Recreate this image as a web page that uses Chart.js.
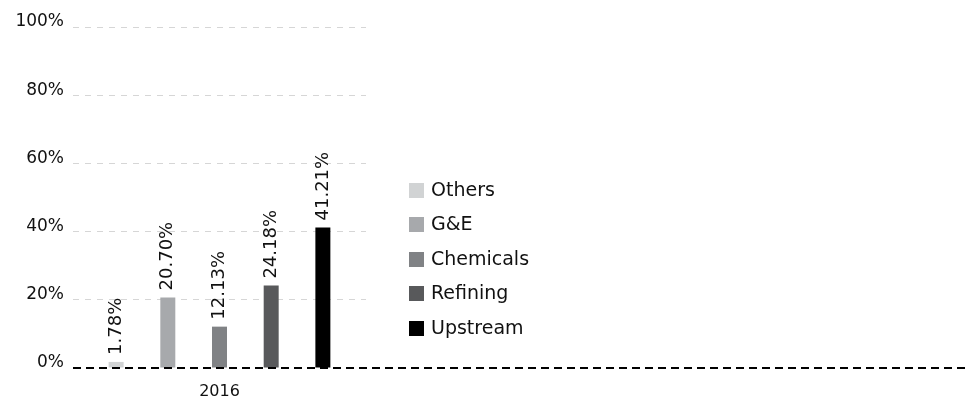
<!DOCTYPE html>
<html>
<head>
<meta charset="utf-8">
<script src="https://cdn.jsdelivr.net/npm/chart.js@4"></script>
<style>
  html, body { margin: 0; padding: 0; background: #ffffff; }
  #c { display: block; }
</style>
</head>
<body>
<canvas id="c" width="969" height="405"></canvas>
<script>
// Share of capital expenditure by segment
const years = ['2016'];
const segments = ['Others', 'G&E', 'Chemicals', 'Refining', 'Upstream'];
const shares = [1.78, 20.70, 12.13, 24.18, 41.21];
const yTicks = [0, 20, 40, 60, 80, 100];
const segmentColors = ['#d1d3d4', '#a7a9ac', '#808285', '#58595b', '#000000'];

const FONT = '"DejaVu Sans", sans-serif';
const INK = '#111111';

// Rotated percentage labels above every bar
const valueLabels = {
  id: 'valueLabels',
  afterDatasetsDraw(chart) {
    const ctx = chart.ctx;
    ctx.save();
    ctx.font = '18px ' + FONT;
    ctx.fillStyle = INK;
    ctx.textAlign = 'left';
    ctx.textBaseline = 'middle';
    chart.data.datasets.forEach((ds, i) => {
      const meta = chart.getDatasetMeta(i);
      meta.data.forEach((bar, j) => {
        const v = ds.data[j];
        ctx.save();
        ctx.translate(bar.x, bar.y - 7);
        ctx.rotate(-Math.PI / 2);
        ctx.fillText(v.toFixed(2) + '%', 0, 0);
        ctx.restore();
      });
    });
    ctx.restore();
  }
};

// Dashed zero line running across the full width
const zeroLine = {
  id: 'zeroLine',
  afterDatasetsDraw(chart) {
    const ctx = chart.ctx;
    const y = Math.round(chart.scales.y.getPixelForValue(0));
    ctx.save();
    ctx.strokeStyle = '#000000';
    ctx.lineWidth = 2;
    ctx.setLineDash([8, 5]);
    ctx.beginPath();
    ctx.moveTo(chart.chartArea.left, y);
    ctx.lineTo(chart.width - 3, y);
    ctx.stroke();
    ctx.restore();
  }
};

// Segment key placed beside the plot
const sideLegend = {
  id: 'sideLegend',
  afterDraw(chart) {
    const ctx = chart.ctx;
    const x0 = 409, y0 = 190, step = 34.5, box = 15;
    ctx.save();
    ctx.font = '19px ' + FONT;
    ctx.textAlign = 'left';
    ctx.textBaseline = 'middle';
    chart.data.datasets.forEach((ds, i) => {
      const yc = y0 + i * step;
      ctx.fillStyle = ds.backgroundColor;
      ctx.fillRect(x0, Math.round(yc - box / 2), box, box);
      ctx.fillStyle = INK;
      ctx.fillText(ds.label, x0 + 22, yc + 1);
    });
    ctx.restore();
  }
};

const datasets = segments.map((name, i) => ({
  label: name,
  data: [shares[i]],
  backgroundColor: segmentColors[i],
  borderWidth: 0,
  categoryPercentage: 0.882,
  barPercentage: 0.29
}));

new Chart(document.getElementById('c'), {
  type: 'bar',
  data: { labels: years, datasets },
  options: {
    responsive: false,
    devicePixelRatio: 1,
    animation: false,
    layout: { padding: { left: 15, right: 603, top: 27, bottom: 5 } },
    plugins: {
      legend: { display: false },
      tooltip: { enabled: false }
    },
    scales: {
      x: {
        afterFit(scale) { scale.height = 32; },
        grid: { display: false, drawTicks: false },
        border: { display: false },
        ticks: { color: INK, font: { family: FONT, size: 16 }, padding: 14 }
      },
      y: {
        min: 0,
        max: 100,
        afterFit(scale) { scale.width = 58; },
        afterBuildTicks(scale) { scale.ticks = yTicks.map(v => ({ value: v })); },
        grid: {
          drawTicks: false,
          lineWidth: 1,
          color: (c) => (c.tick && c.tick.value === 0) ? 'rgba(0,0,0,0)' : '#d6d6d6'
        },
        border: { display: false, dash: [6, 6] },
        ticks: {
          color: INK,
          font: { family: FONT, size: 17 },
          padding: 9,
          labelOffset: -5,
          callback: (v) => v + '%'
        }
      }
    }
  },
  plugins: [valueLabels, zeroLine, sideLegend]
});
</script>
</body>
</html>
